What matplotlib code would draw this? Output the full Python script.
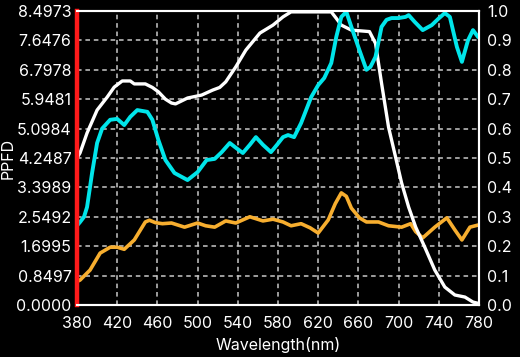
import matplotlib
matplotlib.use('Agg')
import matplotlib.pyplot as plt

plt.rcParams['font.family'] = ['Inter', 'DejaVu Sans']

# white curve (relative spectrum, right axis 0..1)
white_nm = [380, 383, 390, 400, 410, 417, 425, 433, 437, 448, 455, 461, 468, 474, 478,
            490, 504, 515, 522, 528, 538, 548, 562, 575, 585, 593, 633, 638, 643, 653,
            671, 677, 683, 690, 697, 703, 710, 717, 726, 736, 746, 756, 766, 774, 780]
white_val = [0.50, 0.517, 0.585, 0.663, 0.707, 0.741, 0.762, 0.762, 0.752, 0.752, 0.74,
             0.725, 0.70, 0.687, 0.684, 0.704, 0.714, 0.731, 0.74, 0.759, 0.81, 0.867,
             0.925, 0.952, 0.98, 0.997, 0.997, 0.975, 0.952, 0.935, 0.93, 0.89, 0.755,
             0.605, 0.503, 0.415, 0.333, 0.265, 0.197, 0.119, 0.061, 0.034, 0.027,
             0.010, 0.005]

# cyan curve (right axis 0..1)
cyan_nm = [380, 383, 387, 390, 395, 400, 405, 413, 420, 427, 433, 440, 450, 455, 461,
           468, 477, 490, 500, 509, 517, 524, 532, 538, 545, 552, 558, 565, 573, 579,
           585, 590, 596, 603, 613, 620, 626, 633, 638, 643, 648, 653, 661, 668, 672,
           677, 683, 688, 693, 700, 707, 710, 716, 724, 733, 740, 746, 751, 758, 763,
           769, 774, 779, 780]
cyan_val = [0.27, 0.282, 0.30, 0.333, 0.449, 0.551, 0.60, 0.63, 0.633, 0.612, 0.64,
            0.663, 0.657, 0.63, 0.561, 0.493, 0.449, 0.425, 0.452, 0.493, 0.497, 0.52,
            0.551, 0.535, 0.517, 0.545, 0.571, 0.545, 0.52, 0.545, 0.571, 0.578, 0.571,
            0.619, 0.707, 0.748, 0.772, 0.823, 0.912, 0.98, 0.997, 0.946, 0.867, 0.80,
            0.81, 0.844, 0.946, 0.97, 0.976, 0.976, 0.98, 0.986, 0.963, 0.935, 0.952,
            0.975, 0.993, 0.98, 0.878, 0.827, 0.90, 0.935, 0.912, 0.91]

# orange curve, PPFD (left axis)
orange_nm = [380, 383, 393, 403, 413, 420, 427, 437, 448, 452, 458, 465, 474, 487, 500,
             508, 517, 528, 538, 552, 565, 575, 585, 593, 603, 612, 620, 630, 637, 643,
             648, 653, 661, 668, 680, 690, 703, 712, 717, 724, 736, 748, 756, 763, 771,
             779, 780]
orange_ppfd = [0.68, 0.72, 1.01, 1.50, 1.67, 1.67, 1.61, 1.88, 2.40, 2.45, 2.38, 2.35,
               2.37, 2.25, 2.37, 2.29, 2.25, 2.43, 2.37, 2.55, 2.43, 2.48, 2.40, 2.29,
               2.35, 2.23, 2.08, 2.46, 2.93, 3.24, 3.14, 2.80, 2.52, 2.40, 2.40, 2.29,
               2.25, 2.35, 2.12, 1.94, 2.25, 2.52, 2.17, 1.88, 2.25, 2.31, 2.31]

ppfd_max = 8.4973
x_ticks = list(range(380, 781, 40))
y_ticks = [ppfd_max * i / 10 for i in range(11)]
y_labels = ["0.0000", "0.8497", "1.6995", "2.5492", "3.3989", "4.2487",
            "5.0984", "5.9481", "6.7978", "7.6476", "8.4973"]
r_ticks = [i / 10 for i in range(11)]

fig = plt.figure(figsize=(5.2, 3.57), dpi=100, facecolor='black')
ax = fig.add_axes([77 / 520, 52 / 357, 402 / 520, 294 / 357])
ax.set_facecolor('black')
ax2 = ax.twinx()

ax.set_xlim(380, 780)
ax.set_ylim(0, ppfd_max)
ax2.set_ylim(0, 1.0)

ax.set_xticks(x_ticks)
ax.set_yticks(y_ticks)
ax.set_yticklabels(y_labels)
ax2.set_yticks(r_ticks)
ax2.set_yticklabels([f"{v:.1f}" for v in r_ticks])

# dashed grid under the curves
ax.grid(True, color='#c8c8c8', linestyle=(0, (3, 2.5)), linewidth=1.1)
ax.set_axisbelow(True)

ax2.plot(white_nm, white_val, color='white', lw=2.4, solid_joinstyle='round')
ax2.plot(cyan_nm, cyan_val, color='#00e5ea', lw=2.8, solid_joinstyle='round')
ax.plot(orange_nm, orange_ppfd, color='#f7ae2f', lw=2.6, solid_joinstyle='round')

for a in (ax, ax2):
    a.tick_params(length=0, colors='white', labelsize=11.5)
    for s in a.spines.values():
        s.set_color('white')
        s.set_linewidth(1.5)
ax2.spines['left'].set_color('#ff1a1a')
ax2.spines['left'].set_linewidth(3.2)
ax.tick_params(axis='y', pad=4)
ax.tick_params(axis='x', pad=8)
ax2.tick_params(axis='y', pad=6)

ax.set_xlabel("Wavelength(nm)", color='white', fontsize=11.5, labelpad=4)
ax.set_ylabel("PPFD", color='white', fontsize=11.5)
ax.yaxis.set_label_coords(-0.152, 0.5)

fig.savefig("out.png", dpi=100, facecolor='black')
